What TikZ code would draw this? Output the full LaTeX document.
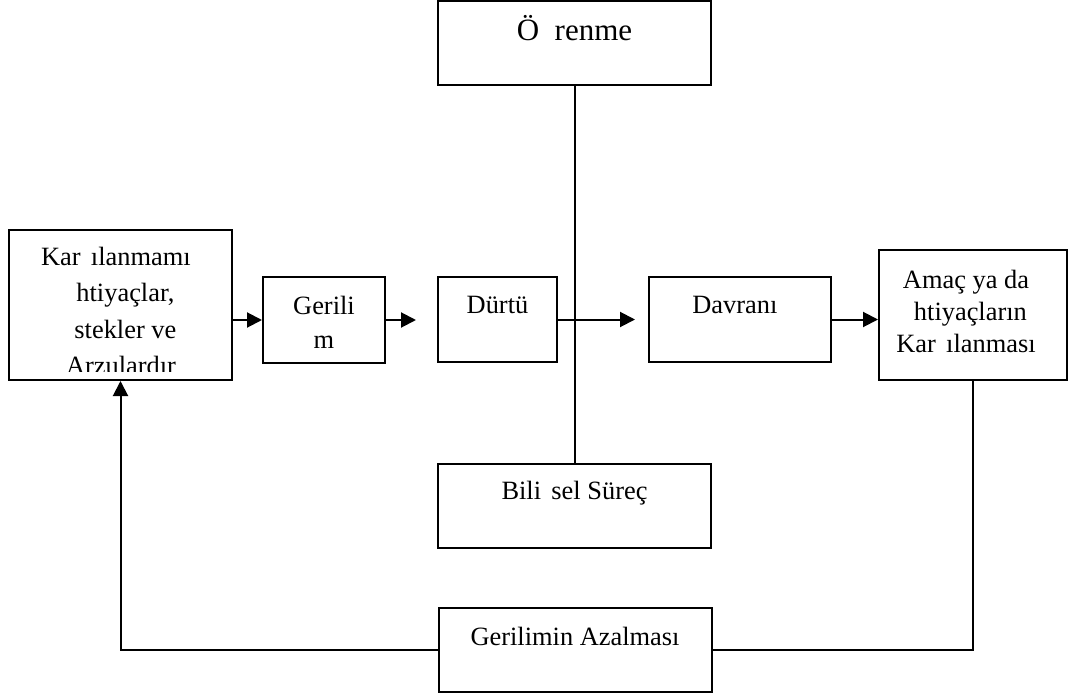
\documentclass[tikz,border=0pt]{standalone}
\usepackage{fontspec}
\setmainfont{Liberation Serif}
\usetikzlibrary{arrows.meta}

\newcommand{\gap}[1]{\phantom{#1}}
\newcommand{\satir}[2]{{\fontsize{26.4}{#1}\selectfont\begin{tabular}[t]{@{}c@{}}#2\end{tabular}}}

\tikzset{
  kutu/.style={draw, line width=2pt, inner sep=0pt},
  yazi/.style={inner sep=0pt, anchor=base, font=\fontsize{26.4}{31.7}\selectfont},
  ok/.style={line width=2pt, -{Triangle[length=15pt,width=15pt]}},
  cizgi/.style={line width=2pt}
}

\begin{document}
\begin{tikzpicture}[x=1pt, y=-1pt]
      \useasboundingbox (0,0) rectangle (1073,698);
      % kutular
      \node[kutu, minimum width=273pt, minimum height=84pt] (ogr) at (574.5,43) {};
      \node[kutu, minimum width=223pt, minimum height=150pt] (kar) at (120.5,305) {};
      \node[kutu, minimum width=122pt, minimum height=86pt] (geril) at (324,320) {};
      \node[kutu, minimum width=119pt, minimum height=85pt] (durtu) at (497.5,319.5) {};
      \node[kutu, minimum width=182pt, minimum height=85pt] (davr) at (740,319.5) {};
      \node[kutu, minimum width=188pt, minimum height=130pt] (amac) at (973,315) {};
      \node[kutu, minimum width=273pt, minimum height=84pt] (bilis) at (574.5,506) {};
      \node[kutu, minimum width=273pt, minimum height=84pt] (azal) at (575.5,650) {};
      % yazilar
      \node[yazi, font=\fontsize{31}{37}\selectfont] (t-ogr) at (574.5,41) {Ö\gap{ğ}renme};
      \begin{scope}
        \clip (10,231) rectangle (231,371);
        \node[yazi] (t-kar) at (121,265.5) {\satir{36.3}{Kar\gap{ş}ılanmamı\gap{ş}\\\gap{İ}htiyaçlar,\\\gap{İ}stekler ve\\Arzulardır}};
      \end{scope}
      \node[yazi] (t-geril) at (324,314) {\satir{34}{Gerili\\m}};
      \node[yazi] (t-durtu) at (497.5,313) {Dürtü};
      \node[yazi] (t-davr) at (740,313) {Davranı\gap{ş}};
      \node[yazi] (t-amac) at (966,288) {\satir{32.4}{Amaç ya da\\\gap{İ}htiyaçların\\Kar\gap{ş}ılanması}};
      \node[yazi] (t-bilis) at (574.5,499) {Bili\gap{ş}sel Süreç};
      \node[yazi] (t-azal) at (575,645) {Gerilimin Azalması};
      % baglantilar
      \coordinate (uc1) at (416,320);
      \coordinate (uc2) at (635,319.5);
      \draw[ok] (kar.east |- geril.west) -- (geril.west);
      \draw[ok] (geril.east) -- (uc1);
      \draw[ok] (durtu.east) -- (uc2);
      \draw[ok] (davr.east) -- (davr.east -| amac.west);
      \draw[cizgi] (ogr.south) -- (bilis.north);
      \draw[cizgi] (amac.south) |- (azal.east);
      \draw[ok] (azal.west) -| (kar.south);
\end{tikzpicture}
\end{document}
